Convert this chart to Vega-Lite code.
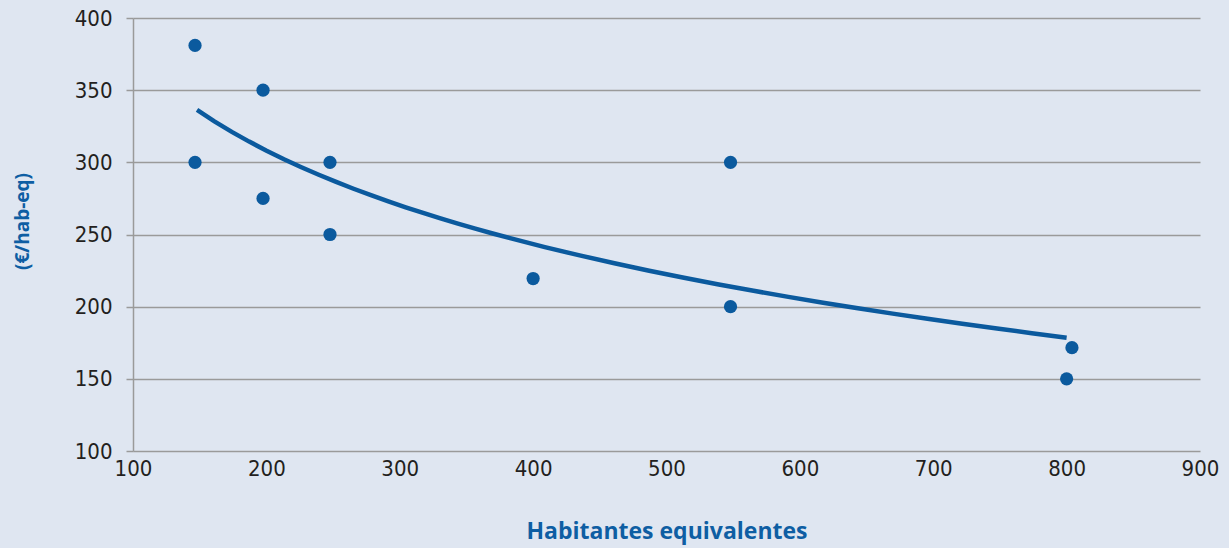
{
  "$schema": "https://vega.github.io/schema/vega-lite/v6.json",
  "autosize": {"type": "none"},
  "width": 1067,
  "height": 433,
  "padding": {"left": 133, "top": 18, "right": 29, "bottom": 97},
  "background": "#dfe6f1",
  "config": {
    "view": {"stroke": null},
    "font": "Roboto"
  },
  "data": {
    "values": [
      {"he": 146.5, "cost": 381},
      {"he": 146.5, "cost": 300},
      {"he": 197.5, "cost": 350},
      {"he": 197.5, "cost": 275},
      {"he": 247.7, "cost": 300},
      {"he": 247.7, "cost": 250},
      {"he": 400, "cost": 219.5},
      {"he": 548, "cost": 300},
      {"he": 548, "cost": 200},
      {"he": 804, "cost": 171.6},
      {"he": 800, "cost": 150}
    ]
  },
  "encoding": {
    "x": {
      "field": "he", "type": "quantitative",
      "scale": {"domain": [100, 900], "nice": false, "zero": false},
      "axis": {
        "title": "Habitantes equivalentes",
        "values": [100, 200, 300, 400, 500, 600, 700, 800, 900],
        "domain": false, "ticks": false, "grid": false,
        "labelFlush": false, "labelOverlap": false,
        "labelFont": "DejaVu Sans Condensed, Roboto", "labelFontSize": 22, "labelColor": "#231f20",
        "labelPadding": 7,
        "titleFont": "Open Sans", "titleFontSize": 23, "titleFontWeight": "bold", "titleColor": "#0e5ea3",
        "titleY": 80, "titleBaseline": "middle"
      }
    },
    "y": {
      "field": "cost", "type": "quantitative",
      "scale": {"domain": [100, 400], "nice": false, "zero": false},
      "axis": {
        "title": "(€/hab-eq)",
        "values": [100, 150, 200, 250, 300, 350, 400],
        "domain": true, "domainColor": "#9a9a9a", "domainWidth": 1.5,
        "ticks": true, "tickSize": 7, "tickColor": "#9a9a9a", "tickWidth": 1.5,
        "grid": true, "gridColor": "#9a9a9a", "gridWidth": 1.5,
        "labelFlush": false, "labelOverlap": false,
        "labelFont": "DejaVu Sans Condensed, Roboto", "labelFontSize": 22, "labelColor": "#231f20",
        "labelPadding": 14,
        "titleFont": "Open Sans", "titleFontSize": 19, "titleFontWeight": "bold", "titleColor": "#0e5ea3",
        "titleAngle": -90, "titleX": -111, "titleY": 203, "titleBaseline": "middle", "titleAlign": "center"
      }
    }
  },
  "layer": [
    {
      "mark": {"type": "line", "color": "#0b5a9e", "strokeWidth": 4.5},
      "transform": [
        {"regression": "cost", "on": "he", "method": "log", "extent": [148, 800]}
      ],
      "encoding": {}
    },
    {
      "mark": {"type": "circle", "color": "#0b5a9e", "opacity": 1, "size": 175}
    }
  ]
}
